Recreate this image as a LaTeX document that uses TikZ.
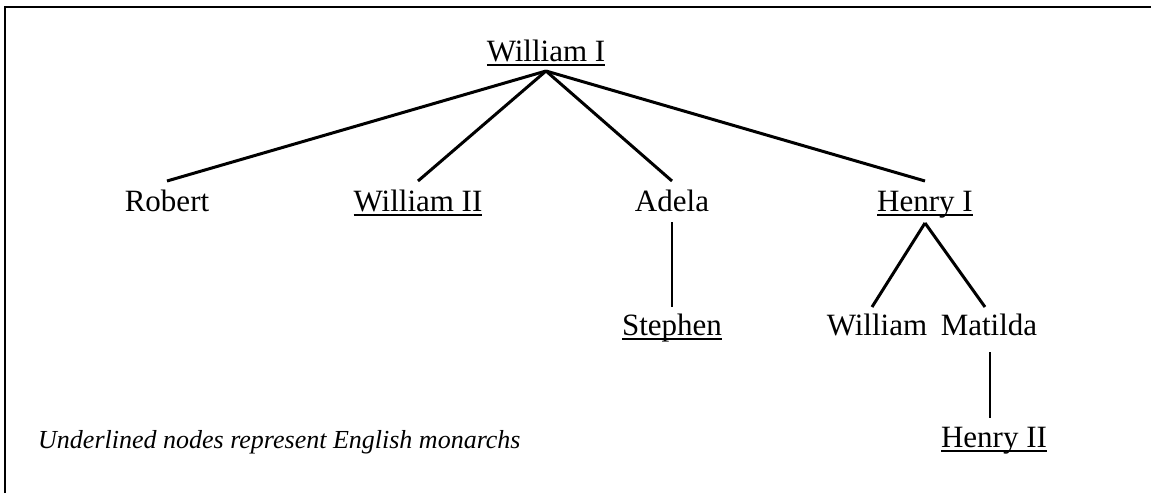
\documentclass[tikz,border=0pt]{standalone}
\usepackage{fontspec}
\setmainfont{Liberation Serif}
\newcommand\ulmon[1]{\setbox0\hbox{#1}\rlap{\rule[-4.8pt]{\wd0}{1.6pt}}\box0}
\begin{document}
\begin{tikzpicture}[x=1pt,y=-1pt,
  person/.style={anchor=base,inner sep=0pt,font=\fontsize{31}{36}\selectfont},
  fan/.style={line width=3pt},
  stem/.style={line width=2pt},
  frameline/.style={line width=2.5pt}]
\useasboundingbox (0,0) rectangle (1151,493);
\draw[frameline] (5,493) -- (5,7) -- (1151,7);
\node[person] (w1) at (546,61) {\ulmon{William I}};
\node[person] (robert) at (167,211) {Robert};
\node[person] (w2) at (418,211) {\ulmon{William II}};
\node[person] (adela) at (672,211) {Adela};
\node[person] (h1) at (925,211) {\ulmon{Henry I}};
\node[person] (stephen) at (672,335) {\ulmon{Stephen}};
\node[person] (william) at (877,335) {William};
\node[person] (matilda) at (989,335) {Matilda};
\node[person] (h2) at (994,447) {\ulmon{Henry II}};
\node[anchor=base west,inner sep=0pt,font=\fontsize{26}{30}\selectfont\itshape] (note) at (38,448) {Underlined nodes represent English monarchs};
\draw[fan] ([yshift=-10pt]w1.base) -- ([yshift=30pt]robert.base);
\draw[fan] ([yshift=-10pt]w1.base) -- ([yshift=30pt]w2.base);
\draw[fan] ([yshift=-10pt]w1.base) -- ([yshift=30pt]adela.base);
\draw[fan] ([yshift=-10pt]w1.base) -- ([yshift=30pt]h1.base);
\draw[stem] ([yshift=-11pt]adela.base) -- ([yshift=28pt]stephen.base);
\draw[fan] ([yshift=-12pt]h1.base) -- ([xshift=-5pt,yshift=28pt]william.base);
\draw[fan] ([yshift=-12pt]h1.base) -- ([xshift=-4pt,yshift=28pt]matilda.base);
\draw[stem] ([xshift=1pt,yshift=-17pt]matilda.base) -- ([xshift=-4pt,yshift=29pt]h2.base);
\end{tikzpicture}
\end{document}
